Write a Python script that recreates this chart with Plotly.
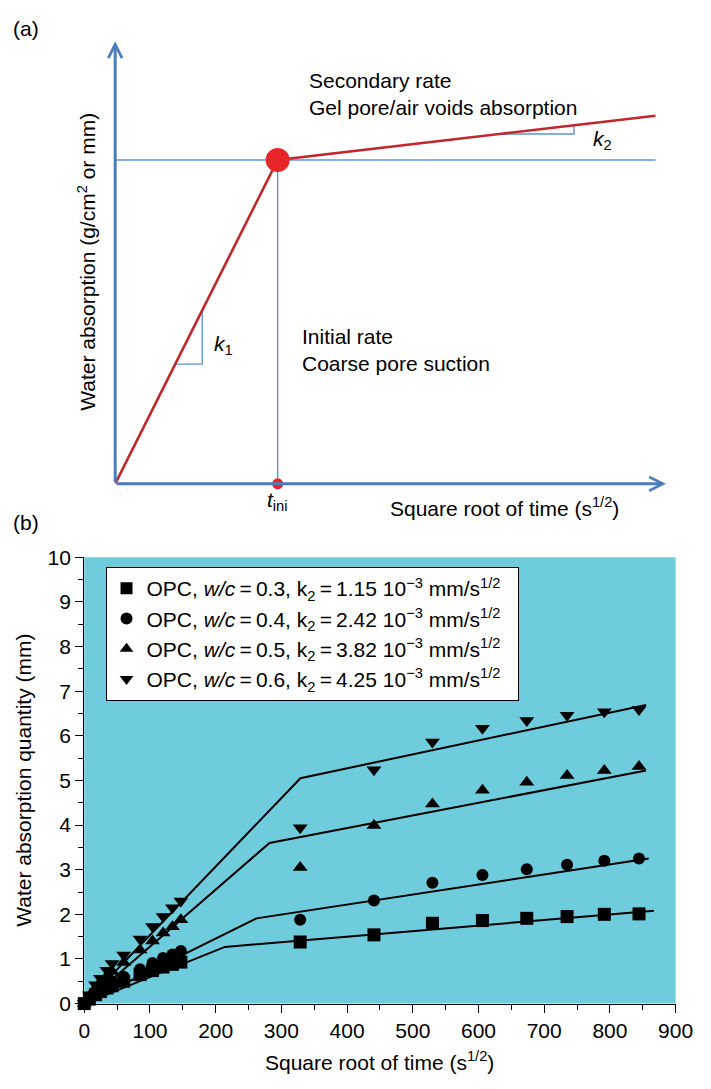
import plotly.graph_objects as go

# ---------------- data: panel (b) ----------------
sqrt_time = [0, 7.7, 17.3, 24.5, 34.6, 42.4, 60.0, 84.9, 103.9, 120.0, 134.2, 147.0,
             328.6, 440.9, 529.9, 606.0, 673.5, 734.8, 791.5, 844.3]
wc03 = [0, 0.10, 0.20, 0.27, 0.35, 0.40, 0.50, 0.65, 0.74, 0.82, 0.88, 0.93,
        1.38, 1.54, 1.80, 1.86, 1.91, 1.95, 2.00, 2.01]
wc04 = [0, 0.13, 0.26, 0.34, 0.44, 0.50, 0.60, 0.77, 0.91, 1.02, 1.10, 1.18,
        1.88, 2.31, 2.71, 2.88, 3.01, 3.11, 3.20, 3.25]
wc05 = [0, 0.17, 0.35, 0.48, 0.62, 0.72, 0.92, 1.20, 1.40, 1.58, 1.72, 1.88,
        3.05, 3.99, 4.47, 4.78, 4.96, 5.11, 5.22, 5.31]
wc06 = [0, 0.20, 0.42, 0.57, 0.75, 0.90, 1.09, 1.45, 1.73, 1.95, 2.15, 2.30,
        3.94, 5.24, 5.86, 6.17, 6.34, 6.46, 6.54, 6.59]

fit_x03, fit_y03 = [0, 214, 867], [0, 1.27, 2.08]
fit_x04, fit_y04 = [0, 262, 859], [0, 1.91, 3.25]
fit_x05, fit_y05 = [0, 282, 855], [0, 3.60, 5.22]
fit_x06, fit_y06 = [0, 329, 855], [0, 5.05, 6.69]

series_names = [
    "OPC, <i>w/c</i>\u2009=\u20090.3, k<sub>2</sub>\u2009=\u20091.15 10<sup>\u22123</sup> mm/s<sup>1/2</sup>\u00a0\u00a0",
    "OPC, <i>w/c</i>\u2009=\u20090.4, k<sub>2</sub>\u2009=\u20092.42 10<sup>\u22123</sup> mm/s<sup>1/2</sup>\u00a0\u00a0",
    "OPC, <i>w/c</i>\u2009=\u20090.5, k<sub>2</sub>\u2009=\u20093.82 10<sup>\u22123</sup> mm/s<sup>1/2</sup>\u00a0\u00a0",
    "OPC, <i>w/c</i>\u2009=\u20090.6, k<sub>2</sub>\u2009=\u20094.25 10<sup>\u22123</sup> mm/s<sup>1/2</sup>\u00a0\u00a0",
]
series_symbols = ["square", "circle", "triangle-up", "triangle-down"]

# ---------------- data: panel (a) schematic ----------------
schem_t = [0, 2.95, 9.81]
schem_w = [0, 7.32, 8.32]
t_ini, w_ini = 2.95, 7.32
guide_h_t, guide_h_w = [0, 9.81], [7.32, 7.32]
guide_v_t, guide_v_w = [2.95, 2.95], [0, 7.32]
k1_t, k1_w = [1.09, 1.58, 1.58], [2.705, 2.705, 3.92]
k2_t, k2_w = [6.96, 8.33, 8.33], [7.905, 7.905, 8.104]

W, H = 711, 1089
def fx(p):
    return p / W
def fy(p):
    return 1 - p / H

FONT = "Liberation Sans, Arial, Helvetica, sans-serif"
BLUE_AXIS = "#4A7EBB"
BLUE_THIN = "#5F93D3"
RED_LINE = "#C1272D"
RED_DOT = "#E8262A"
CYAN = "#6ECCDD"
TXT = 21

fig = go.Figure()

# ---- panel (a) ----
for tx, wy in [(guide_h_t, guide_h_w), (guide_v_t, guide_v_w), (k1_t, k1_w), (k2_t, k2_w)]:
    fig.add_trace(go.Scatter(x=tx, y=wy, mode="lines", xaxis="x2", yaxis="y2",
                             line=dict(color=BLUE_THIN, width=1.4), showlegend=False,
                             hoverinfo="skip"))
fig.add_trace(go.Scatter(x=schem_t, y=schem_w, mode="lines", xaxis="x2", yaxis="y2",
                         line=dict(color=RED_LINE, width=2.6), showlegend=False))
fig.add_trace(go.Scatter(x=[t_ini], y=[w_ini], mode="markers", xaxis="x2", yaxis="y2",
                         marker=dict(color=RED_DOT, size=24), showlegend=False,
                         cliponaxis=False))
fig.add_trace(go.Scatter(x=[t_ini], y=[0], mode="markers", xaxis="x2", yaxis="y2",
                         marker=dict(color=RED_DOT, size=11), showlegend=False,
                         cliponaxis=False))

# ---- panel (b) ----
fits = [(fit_x03, fit_y03), (fit_x04, fit_y04), (fit_x05, fit_y05), (fit_x06, fit_y06)]
for fxs, fys in fits:
    fig.add_trace(go.Scatter(x=fxs, y=fys, mode="lines", line=dict(color="black", width=2),
                             showlegend=False, cliponaxis=False))
for i, (vals, name, sym) in enumerate(zip([wc03, wc04, wc05, wc06], series_names, series_symbols)):
    fig.add_trace(go.Scatter(x=sqrt_time, y=vals, mode="markers", name=name,
                             legendgroup=f"g{i}",
                             marker=dict(symbol=sym, size=13 if sym != "circle" else 12,
                                         color="black"),
                             cliponaxis=False))

annotations = []
# axis arrows for panel (a)
annotations.append(dict(x=10, y=0, ax=0, ay=0, xref="x2", yref="y2", axref="x2", ayref="y2",
                        text="", showarrow=True, arrowhead=5, arrowsize=0.9, arrowwidth=3,
                        arrowcolor=BLUE_AXIS, standoff=0, startstandoff=0))
annotations.append(dict(x=0, y=10, ax=0, ay=0, xref="x2", yref="y2", axref="x2", ayref="y2",
                        text="", showarrow=True, arrowhead=5, arrowsize=0.9, arrowwidth=3,
                        arrowcolor=BLUE_AXIS, standoff=0, startstandoff=0))

def txt(text, x, y, size=TXT, xanchor="left", yanchor="middle", angle=0, align="left"):
    annotations.append(dict(text=text, x=fx(x), y=fy(y), xref="paper", yref="paper",
                            showarrow=False, xanchor=xanchor, yanchor=yanchor,
                            textangle=angle, align=align,
                            font=dict(family=FONT, size=size, color="black")))

txt("(a)", 5, 17)
txt("(b)", 5, 522)
txt("Secondary rate<br>Gel pore/air voids absorption", 311, 84)
txt("Initial rate<br>Coarse pore suction", 304, 345)
txt("<i>k</i><sub>1</sub>", 213, 340)
txt("<i>k</i><sub>2</sub>", 605, 131)
txt("<i>t</i><sub>ini</sub>", 281, 500, xanchor="center")
txt("Square root of time (s<sup>1/2</sup>)", 516, 506, xanchor="center")
txt("Water absorption (g/cm<sup>2</sup> or mm)", 83, 255, xanchor="center", angle=-90)
txt("Square root of time (s<sup>1/2</sup>)", 387, 1072, xanchor="center")
txt("Water absorption quantity (mm)", 18, 785, xanchor="center", angle=-90)

fig.update_layout(
    width=W, height=H,
    margin=dict(l=0, r=0, t=0, b=0),
    paper_bgcolor="white", plot_bgcolor="white",
    font=dict(family=FONT, size=TXT, color="black"),
    annotations=annotations,
    shapes=[dict(type="rect", xref="x domain", yref="y domain", x0=0, x1=1, y0=0, y1=1,
                 fillcolor=CYAN, line=dict(width=0), layer="below")],
    xaxis=dict(domain=[fx(81), fx(693)], range=[0, 900], tick0=0, dtick=100,
               showline=True, linecolor="black", linewidth=1.3, showgrid=False, zeroline=False,
               ticks="outside", ticklen=8, tickwidth=1.3, tickcolor="black",
               minor=dict(dtick=50, ticks="outside", ticklen=5, tickwidth=1.3, tickcolor="black"),
               tickfont=dict(size=21, family=FONT), anchor="y"),
    yaxis=dict(domain=[fy(1013), fy(557)], range=[0, 10], tick0=0, dtick=1,
               showline=True, linecolor="black", linewidth=1.3, showgrid=False, zeroline=False,
               ticks="outside", ticklen=8, tickwidth=1.3, tickcolor="black",
               minor=dict(dtick=0.5, ticks="outside", ticklen=5, tickwidth=1.3, tickcolor="black"),
               tickfont=dict(size=21, family=FONT), anchor="x"),
    xaxis2=dict(domain=[fx(113), fx(683)], range=[0, 10], visible=False, anchor="y2"),
    yaxis2=dict(domain=[fy(482), fy(30)], range=[0, 10], visible=False, anchor="x2"),
    legend=dict(x=fx(103), y=fy(567), xanchor="left", yanchor="top",
                bgcolor="white", bordercolor="black", borderwidth=1,
                font=dict(size=21, family=FONT), traceorder="grouped", tracegroupgap=0,
                itemsizing="constant"),
)

fig.write_html("out.html")
